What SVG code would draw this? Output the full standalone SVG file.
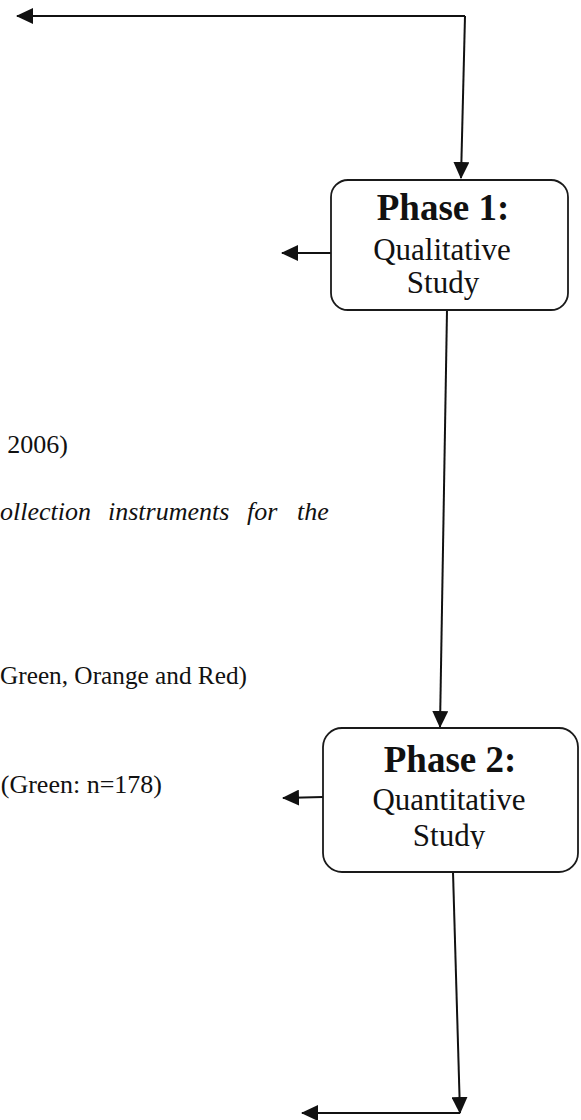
<svg xmlns="http://www.w3.org/2000/svg" width="581" height="1120" viewBox="0 0 581 1120">
  <style>
    .box { fill: #ffffff; stroke: #1a1a1a; stroke-width: 1.8; }
    .edge { fill: none; stroke: #111111; stroke-width: 2; }
    .title { font-family: "Liberation Serif", "Times New Roman", serif; font-weight: bold; font-size: 37px; fill: #111111; text-anchor: middle; }
    .sub { font-family: "Liberation Serif", "Times New Roman", serif; font-size: 31px; fill: #111111; text-anchor: middle; }
    .body { font-family: "Liberation Serif", "Times New Roman", serif; font-size: 26px; fill: #111111; }
    .it { font-style: italic; }
  </style>
  <defs>
    <marker id="arrow" markerUnits="userSpaceOnUse" markerWidth="17" markerHeight="16" refX="16" refY="8" orient="auto">
      <path d="M0,0 L17,8 L0,16 Z" fill="#111111"/>
    </marker>
    <clipPath id="clipStudy2">
      <rect x="323" y="728" width="255" height="121"/>
    </clipPath>
  </defs>

  <rect width="581" height="1120" fill="#ffffff"/>

  <!-- body text running along the left margin -->
  <g id="notes">
    <text class="body" x="68" y="453" text-anchor="end">2006)</text>
    <g class="it">
      <text class="body it" x="0" y="520">ollection</text>
      <text class="body it" x="108" y="520">instruments</text>
      <text class="body it" x="247" y="520">for</text>
      <text class="body it" x="297" y="520">the</text>
    </g>
    <text class="body" x="0" y="684" textLength="247" lengthAdjust="spacingAndGlyphs">Green, Orange and Red)</text>
    <text class="body" x="162" y="793" text-anchor="end">(Green: n=178)</text>
  </g>

  <!-- connectors -->
  <g id="connectors">
    <path class="edge" d="M465,16 L17,16" marker-end="url(#arrow)"/>
    <path class="edge" d="M465,16 L461,178" marker-end="url(#arrow)"/>
    <path class="edge" d="M331,253 L282,253" marker-end="url(#arrow)"/>
    <path class="edge" d="M447,310 L440,727" marker-end="url(#arrow)"/>
    <path class="edge" d="M323,797 L283,798" marker-end="url(#arrow)"/>
    <path class="edge" d="M453,872 L460,1113" marker-end="url(#arrow)"/>
    <path class="edge" d="M460,1113 L302,1113" marker-end="url(#arrow)"/>
  </g>

  <!-- Phase 1 -->
  <g id="phase1">
    <rect class="box" x="331" y="180" width="237" height="130" rx="17" ry="17"/>
    <text class="title" x="443" y="220">Phase 1:</text>
    <text class="sub" x="442" y="260">Qualitative</text>
    <text class="sub" x="443" y="293">Study</text>
  </g>

  <!-- Phase 2 -->
  <g id="phase2">
    <rect class="box" x="323" y="728" width="255" height="144" rx="19" ry="19"/>
    <text class="title" x="450" y="772">Phase 2:</text>
    <text class="sub" x="449" y="810">Quantitative</text>
    <text class="sub" x="449" y="846" clip-path="url(#clipStudy2)">Study</text>
  </g>
</svg>
